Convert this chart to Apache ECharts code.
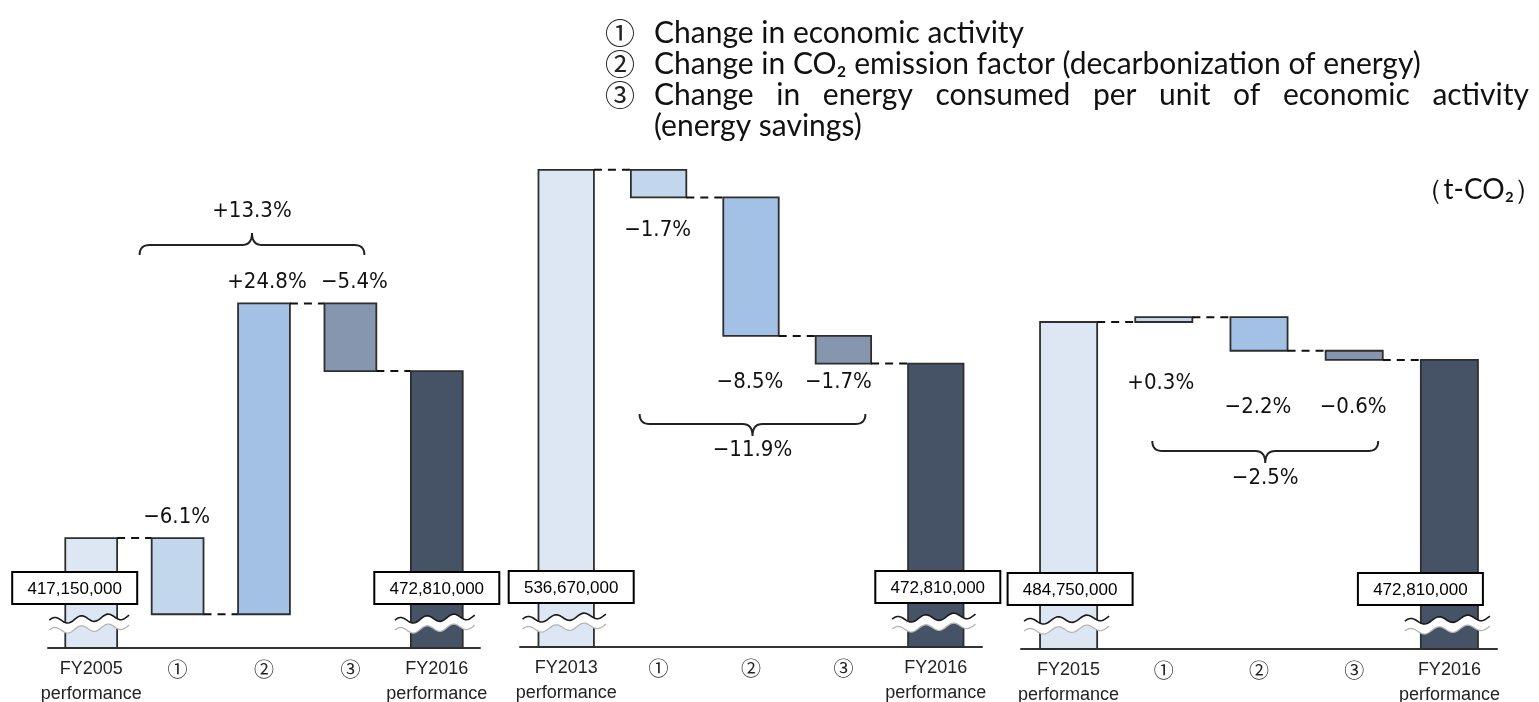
<!DOCTYPE html>
<html><head><meta charset="utf-8">
<script src="https://cdn.jsdelivr.net/npm/echarts@6/dist/echarts.min.js"></script>
<style>html,body{margin:0;padding:0;background:#fff}#c{width:1539px;height:702px}</style>
</head><body><div id="c"></div>
<script>
// ---------------- data ----------------
const startLabels = ['FY2005\nperformance', 'FY2013\nperformance', 'FY2015\nperformance'];
const factorLabels = ['①', '②', '③'];
const endLabel = 'FY2016\nperformance';
const startValues = [417150000, 536670000, 484750000];
const endValues = [472810000, 472810000, 472810000];
const changes2005 = [-25400000, 103600000, -22540000];
const changes2013 = [-9120000, -45620000, -9120000];
const changes2015 = [1500000, -10550000, -2890000];
const pct2005 = ['−6.1%', '+24.8%', '−5.4%'];
const pct2013 = ['−1.7%', '−8.5%', '−1.7%'];
const pct2015 = ['+0.3%', '−2.2%', '−0.6%'];
const totalPct = ['+13.3%', '−11.9%', '−2.5%'];
const legendMarks = ['①', '②', '③'];
const legendTexts = [
  'Change in economic activity',
  'Change in CO₂ emission factor (decarbonization of energy)',
  'Change in energy consumed per unit of economic activity',
  '(energy savings)'
];
const unitLabel = '（t-CO₂）';

// ---------------- layout / style ----------------
const layout = [
  { grid: { left: 48, width: 432, top: 160, bottom: 54 }, yMin: 380500000, yMax: 543170000,
    pctY: [517, 282, 282], pctDx: [-1, 3, 4], braceDx: [-38, 14], braceY: 245, braceDir: -1, totalY: 211, boxDx: [-16.5, 0] },
  { grid: { left: 520, width: 462, top: 160, bottom: 55 }, yMin: 379400000, yMax: 539900000,
    pctY: [230, 382, 382], pctDx: [-1, -1, -5], braceDx: [-19, 22], braceY: 424, braceDir: 1, totalY: 450, boxDx: [5, 2] },
  { grid: { left: 1021, width: 476, top: 160, bottom: 53 }, yMin: 381900000, yMax: 535700000,
    pctY: [383, 407, 407], pctDx: [-3, -1, -1], braceDx: [-11.5, 24], braceY: 451, braceDir: 1, totalY: 478, boxDx: [1.5, -29] }
];
const BAR_RATIO = 0.6;
const BOX_W = 125, BOX_H = 32;
const colors = { start: '#DDE7F3', f: ['#C2D7EC', '#A3C1E5', '#8796AF'], end: '#465366', stroke: '#2e2e2e' };
const FONT_NUM = "'Liberation Sans Narrow','DejaVu Sans Condensed','Noto Sans CJK JP',sans-serif";
const FONT_SANS = "'Liberation Sans', Arial, sans-serif";
const FONT_HEAD = "Lato, 'Noto Sans', sans-serif";
const FONT_CJK = "'Noto Sans CJK JP', sans-serif";

const panels = [
  { start: startValues[0], end: endValues[0], changes: changes2005, pct: pct2005, total: totalPct[0], startLabel: startLabels[0] },
  { start: startValues[1], end: endValues[1], changes: changes2013, pct: pct2013, total: totalPct[1], startLabel: startLabels[1] },
  { start: startValues[2], end: endValues[2], changes: changes2015, pct: pct2015, total: totalPct[2], startLabel: startLabels[2] }
];

function fmt(v) { return Math.round(v).toLocaleString('en-US'); }

function quad(pts, p0, c, p1, n) {
  for (let i = 0; i <= n; i++) {
    const t = i / n, a = (1 - t) * (1 - t), b = 2 * (1 - t) * t, d = t * t;
    pts.push([a * p0[0] + b * c[0] + d * p1[0], a * p0[1] + b * c[1] + d * p1[1]]);
  }
}

function buildBars(p) {
  const items = [[0, 0, p.start, p.start, 0]];
  let r = p.start;
  p.changes.forEach((c, i) => {
    const n = r + c;
    items.push([i + 1, Math.min(r, n), Math.max(r, n), n, i + 1]);
    r = n;
  });
  items.push([4, 0, p.end, p.end, 4]);
  return items;
}

function makeBarRender(pi) {
  const L = layout[pi], P = panels[pi];
  return function (params, api) {
    const cat = api.value(0), lo = api.value(1), hi = api.value(2), lvl = api.value(3), kind = api.value(4);
    const cs = params.coordSys;
    const base = cs.y + cs.height;
    const w = api.size([1, 0])[0] * BAR_RATIO;
    const top = api.coord([cat, hi]);
    const cx = top[0], yTop = top[1];
    const isEnd = (kind === 0 || kind === 4);
    const yBot = isEnd ? base : api.coord([cat, lo])[1];
    const fill = kind === 0 ? colors.start : kind === 4 ? colors.end : colors.f[kind - 1];
    const ch = [];
    ch.push({ type: 'rect', shape: { x: cx - w / 2, y: yTop, width: w, height: Math.max(yBot - yTop, 1) },
      style: { fill: fill, stroke: colors.stroke, lineWidth: 1.8 } });
    if (kind < 4) {
      const yl = api.coord([cat, lvl])[1];
      const nx = api.coord([cat + 1, lvl])[0];
      ch.push({ type: 'line', shape: { x1: cx + w / 2, y1: yl, x2: nx - w / 2, y2: yl },
        style: { stroke: '#111', lineWidth: 2, lineDash: [8, 6] } });
    }
    if (isEnd) {
      // axis break (wavy band)
      const x0 = cx - w / 2 - 16, x1 = cx + w / 2 + 12;
      const topPts = [], botPts = [];
      const N = 60;
      for (let i = 0; i <= N; i++) {
        const t = i / N, x = x0 + (x1 - x0) * t;
        const y = base - 30 - 3.2 * Math.sin(2 * Math.PI * 3 * t + 0.3) + 3 - 5 * t;
        topPts.push([x, y]);
        botPts.push([x, y + 10]);
      }
      ch.push({ type: 'polygon', shape: { points: topPts.concat(botPts.slice().reverse()) }, style: { fill: '#fff' } });
      ch.push({ type: 'polyline', shape: { points: topPts }, style: { stroke: '#1a1a1a', lineWidth: 1.6, fill: null } });
      ch.push({ type: 'polyline', shape: { points: botPts }, style: { stroke: '#b5b5b5', lineWidth: 1.3, fill: null } });
      // value box
      const bx = cx + L.boxDx[kind === 0 ? 0 : 1] - BOX_W / 2, by = base - 76;
      ch.push({ type: 'rect', shape: { x: bx, y: by, width: BOX_W, height: BOX_H }, style: { fill: '#fff', stroke: '#000', lineWidth: 2 } });
      ch.push({ type: 'text', style: { text: fmt(hi), x: bx + BOX_W / 2, y: by + BOX_H / 2 + 1, align: 'center', verticalAlign: 'middle',
        fontSize: 17, fontFamily: FONT_SANS, fill: '#000' } });
    } else {
      ch.push({ type: 'text', style: { text: P.pct[kind - 1], x: cx + L.pctDx[kind - 1], y: L.pctY[kind - 1],
        align: 'center', verticalAlign: 'middle', fontSize: 22, fontFamily: FONT_NUM, fill: '#111' } });
    }
    return { type: 'group', children: ch };
  };
}

function makeBraceRender(pi) {
  const L = layout[pi], P = panels[pi];
  return function (params, api) {
    const xa = api.coord([api.value(0), L.yMin])[0] + L.braceDx[0];
    const xb = api.coord([api.value(1), L.yMin])[0] + L.braceDx[1];
    const xm = (xa + xb) / 2;
    const d = L.braceDir, yl = L.braceY, ye = yl - d * 10, yp = yl + d * 12, r = 10;
    const pts = [];
    quad(pts, [xa, ye], [xa, yl], [xa + r, yl], 8);
    quad(pts, [xm - r, yl], [xm, yl], [xm, yp], 8);
    quad(pts, [xm, yp], [xm, yl], [xm + r, yl], 8);
    quad(pts, [xb - r, yl], [xb, yl], [xb, ye], 8);
    return { type: 'group', children: [
      { type: 'polyline', shape: { points: pts }, style: { stroke: '#222', lineWidth: 2, fill: null } },
      { type: 'text', style: { text: P.total, x: xm, y: L.totalY, align: 'center', verticalAlign: 'middle',
        fontSize: 22, fontFamily: FONT_NUM, fill: '#111' } }
    ] };
  };
}

const grids = [], xAxes = [], yAxes = [], series = [];
panels.forEach((p, i) => {
  const L = layout[i];
  grids.push(Object.assign({ containLabel: false, outerBoundsMode: 'none' }, L.grid));
  xAxes.push({ type: 'category', gridIndex: i, data: [p.startLabel].concat(factorLabels, [endLabel]),
    axisLine: { lineStyle: { color: '#333', width: 2 } }, axisTick: { show: false },
    axisLabel: { interval: 0, fontSize: 18, lineHeight: 25, margin: 9, color: '#222', fontFamily: FONT_SANS,
      formatter: v => factorLabels.indexOf(v) >= 0 ? '{c|' + v + '}' : v,
      rich: { c: { fontSize: 20, lineHeight: 25, fontFamily: FONT_CJK, color: '#222' } } } });
  yAxes.push({ type: 'value', gridIndex: i, min: L.yMin, max: L.yMax, show: false, splitLine: { show: false } });
  series.push({ type: 'custom', xAxisIndex: i, yAxisIndex: i, clip: false, data: buildBars(p),
    encode: { x: 0, y: [1, 2] }, renderItem: makeBarRender(i), z: 2, silent: true });
  series.push({ type: 'custom', xAxisIndex: i, yAxisIndex: i, clip: false, data: [[1, 3]],
    encode: { x: [0, 1] }, renderItem: makeBraceRender(i), z: 3, silent: true });
});

// header text (legend of factors)
const ctx = document.createElement('canvas').getContext('2d');
function tw(text, size, fam) { ctx.font = size + 'px ' + fam; return ctx.measureText(text).width; }
const HEAD_X = 654, HEAD_R = 1529;
const headSize = Math.max(16, Math.min(30, 22 * 813 / tw(legendTexts[1], 22, FONT_HEAD)));
const rowY = [33, 64, 95, 126];
const graphic = [];
legendMarks.forEach((m, i) => {
  graphic.push({ type: 'text', x: 620, y: rowY[i], style: { text: m, align: 'center', verticalAlign: 'middle', fontSize: 30, fontFamily: FONT_CJK, fill: '#222' } });
});
[0, 1].forEach(i => {
  graphic.push({ type: 'text', x: HEAD_X, y: rowY[i], style: { text: legendTexts[i], align: 'left', verticalAlign: 'middle', fontSize: headSize, fontFamily: FONT_HEAD, fill: '#111' } });
});
// justified third row
(function () {
  const words = legendTexts[2].split(' ');
  const ws = words.map(wd => tw(wd, headSize, FONT_HEAD));
  const sum = ws.reduce((a, b) => a + b, 0);
  const gap = (HEAD_R - HEAD_X - sum) / (words.length - 1);
  let x = HEAD_X;
  words.forEach((wd, k) => {
    graphic.push({ type: 'text', x: x, y: rowY[2], style: { text: wd, align: 'left', verticalAlign: 'middle', fontSize: headSize, fontFamily: FONT_HEAD, fill: '#111' } });
    x += ws[k] + gap;
  });
})();
graphic.push({ type: 'text', x: HEAD_X, y: rowY[3], style: { text: legendTexts[3], align: 'left', verticalAlign: 'middle', fontSize: headSize, fontFamily: FONT_HEAD, fill: '#111' } });
graphic.push({ type: 'text', x: 1542, y: 190, style: { text: unitLabel, align: 'right', verticalAlign: 'middle', fontSize: 28, fontFamily: FONT_HEAD, fill: '#111' } });

const chart = echarts.init(document.getElementById('c'), null, { renderer: 'canvas', width: 1539, height: 702 });
chart.setOption({
  animation: false,
  backgroundColor: '#fff',
  grid: grids, xAxis: xAxes, yAxis: yAxes, series: series, graphic: graphic
});
</script></body></html>
